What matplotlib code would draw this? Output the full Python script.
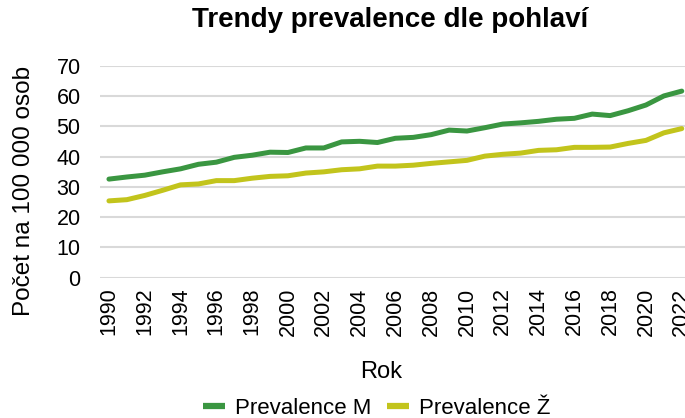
import matplotlib
matplotlib.use("Agg")
import matplotlib.pyplot as plt

plt.rcParams['font.family'] = ['Liberation Sans', 'DejaVu Sans']

years = list(range(1990, 2023))
prev_m = [32.6, 33.3, 33.9, 35.0, 36.0, 37.5, 38.2, 39.8, 40.5, 41.5, 41.4,
          42.9, 42.9, 44.9, 45.1, 44.7, 46.1, 46.4, 47.3, 48.8, 48.5, 49.6,
          50.8, 51.2, 51.7, 52.4, 52.7, 54.1, 53.6, 55.2, 57.1, 60.1, 61.7]
prev_z = [25.4, 25.8, 27.2, 28.9, 30.7, 31.0, 32.1, 32.1, 32.9, 33.5, 33.7,
          34.6, 35.0, 35.7, 36.0, 36.9, 36.9, 37.2, 37.8, 38.3, 38.8, 40.2,
          40.8, 41.2, 42.1, 42.3, 43.1, 43.1, 43.2, 44.4, 45.4, 47.9, 49.3]
yticks = [0, 10, 20, 30, 40, 50, 60, 70]
xticks = list(range(1990, 2023, 2))

W, H = 685, 418
fig = plt.figure(figsize=(W / 100, H / 100), dpi=100)
ax = fig.add_axes([100 / W, (H - 277.7) / H, 590.7 / W, 211.7 / H])

c_m = '#3a9641'
c_z = '#c2c41c'
ax.plot(years, prev_m, color=c_m, lw=3.6, label='Prevalence M', solid_capstyle='round')
ax.plot(years, prev_z, color=c_z, lw=3.6, label='Prevalence Ž', solid_capstyle='round')

ax.set_xlim(1989.5, 2022.5)
ax.set_ylim(0, 70)
ax.set_yticks(yticks)
ax.set_xticks(xticks)
ax.set_xticklabels([str(x) for x in xticks], rotation=90)
ax.grid(axis='y', color='#d9d9d9', lw=1.5)
ax.set_axisbelow(True)
for s in ax.spines.values():
    s.set_visible(False)
ax.tick_params(axis='both', length=0, labelsize=15.5, colors='#000000')
ax.tick_params(axis='y', pad=14)
ax.tick_params(axis='x', pad=7)

ax.set_xlabel('Rok', fontsize=17)
ax.xaxis.set_label_coords(0.476, -0.392)
ax.set_ylabel('Počet na 100 000 osob', fontsize=17.5)
ax.yaxis.set_label_coords(-0.110, 0.412)

fig.text(390 / W, (H - 20) / H, 'Trendy prevalence dle pohlaví', fontsize=20,
         fontweight='bold', ha='center', va='center')

leg = fig.legend(loc='center', bbox_to_anchor=(377 / W, 10 / H), ncol=2,
                 frameon=False, fontsize=16, handlelength=1.0, handletextpad=0.45,
                 columnspacing=0.7, borderaxespad=0)
for line in leg.get_lines():
    line.set_linewidth(4.5)
    line.set_solid_capstyle('butt')

fig.savefig('out.png', dpi=100)
